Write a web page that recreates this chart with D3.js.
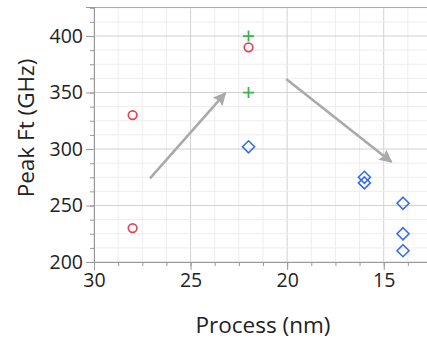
<!DOCTYPE html>
<html>
<head>
<meta charset="utf-8">
<script src="https://cdn.jsdelivr.net/npm/d3@7"></script>
<style>
  body { margin: 0; background: #fff; }
  text { font-family: "Open Sans", sans-serif; fill: #222; }
</style>
</head>
<body>
<svg id="chart" width="427" height="339"></svg>
<script>
// points
const circlePts = [[28, 330], [28, 230], [22, 390]];
const plusPts = [[22, 400], [22, 350]];
const diamondPts = [[22, 302], [16, 275], [16, 270], [14, 252], [14, 225], [14, 210]];
// arrows: [x1, y1, x2, y2] in data units
const arrows = [[27.1, 274, 23.2, 349.5], [20.05, 362, 14.6, 288.5]];
const xTicks = [30, 25, 20, 15];
const yTicks = [200, 250, 300, 350, 400];

const svg = d3.select("#chart");
const margin = { left: 94, top: 7, bottom: 262 };

const x = d3.scaleLinear().domain([30, 12.5]).range([margin.left, 432]);
const y = d3.scaleLinear().domain([200, 425.7]).range([margin.bottom, margin.top]);

const xMinor = d3.range(30, 12.4, -1.25);
const yMinor = d3.range(200, 426, 12.5);

// grid
const grid = svg.append("g");
grid.selectAll(".vx").data(xMinor).enter().append("line")
  .attr("x1", d => x(d)).attr("x2", d => x(d))
  .attr("y1", margin.top).attr("y2", margin.bottom)
  .attr("stroke", d => xTicks.includes(d) ? "#d2d2d2" : "#ededed")
  .attr("stroke-width", 1);
grid.selectAll(".hy").data(yMinor).enter().append("line")
  .attr("x1", margin.left).attr("x2", 427)
  .attr("y1", d => y(d)).attr("y2", d => y(d))
  .attr("stroke", d => yTicks.includes(d) ? "#d2d2d2" : "#ededed")
  .attr("stroke-width", 1);

// top border
svg.append("line")
  .attr("x1", margin.left).attr("x2", 427)
  .attr("y1", margin.top + 0.5).attr("y2", margin.top + 0.5)
  .attr("stroke", "#aaa");

// axes
const xAxis = svg.append("g").attr("transform", `translate(0,${margin.bottom})`);
xAxis.call(d3.axisBottom(x).tickValues(xMinor).tickSize(4).tickFormat(""));
xAxis.call(g => g.append("g").call(d3.axisBottom(x).tickValues(xTicks).tickSize(8).tickPadding(3)));
const yAxis = svg.append("g").attr("transform", `translate(${margin.left},0)`);
yAxis.call(d3.axisLeft(y).tickValues(yMinor).tickSize(4).tickFormat(""));
yAxis.call(g => g.append("g").call(d3.axisLeft(y).tickValues(yTicks).tickSize(8).tickPadding(3)));

svg.selectAll(".domain").attr("stroke", "#999");
svg.selectAll(".tick line").attr("stroke", "#999");
svg.selectAll(".tick text").attr("font-size", 19.5).attr("fill", "#222")
  .attr("font-family", "'Open Sans', sans-serif");

// axis titles
svg.append("text")
  .attr("x", 263).attr("y", 333)
  .attr("text-anchor", "middle")
  .attr("font-size", 22.5)
  .text("Process (nm)");
svg.append("text")
  .attr("transform", "translate(34,128) rotate(-90)")
  .attr("text-anchor", "middle")
  .attr("font-size", 22.5)
  .text("Peak Ft (GHz)");

// arrows
const defs = svg.append("defs");
defs.append("marker")
  .attr("id", "head")
  .attr("viewBox", "0 0 10 10")
  .attr("refX", 9).attr("refY", 5)
  .attr("markerWidth", 5.6).attr("markerHeight", 5)
  .attr("markerUnits", "strokeWidth")
  .attr("orient", "auto")
  .append("path").attr("d", "M0,0 L10,5 L0,10 L1.5,5 Z").attr("fill", "#aaa");

svg.selectAll(".arrow").data(arrows).enter().append("line")
  .attr("x1", d => x(d[0])).attr("y1", d => y(d[1]))
  .attr("x2", d => x(d[2])).attr("y2", d => y(d[3]))
  .attr("stroke", "#aaa").attr("stroke-width", 2.6)
  .attr("marker-end", "url(#head)");

// marks
svg.selectAll(".c").data(circlePts).enter().append("circle")
  .attr("cx", d => x(d[0])).attr("cy", d => y(d[1]))
  .attr("r", 4.3).attr("fill", "none")
  .attr("stroke", "#e0485a").attr("stroke-width", 1.7);

svg.selectAll(".p").data(plusPts).enter().append("path")
  .attr("d", d => `M${x(d[0]) - 5.5},${y(d[1])}h11M${x(d[0])},${y(d[1]) - 5.5}v11`)
  .attr("stroke", "#3bb34a").attr("stroke-width", 1.8);

svg.selectAll(".d").data(diamondPts).enter().append("path")
  .attr("d", d => `M${x(d[0])},${y(d[1]) - 6}l6,6l-6,6l-6,-6z`)
  .attr("fill", "none")
  .attr("stroke", "#3a6ee0").attr("stroke-width", 1.6);
</script>
</body>
</html>
